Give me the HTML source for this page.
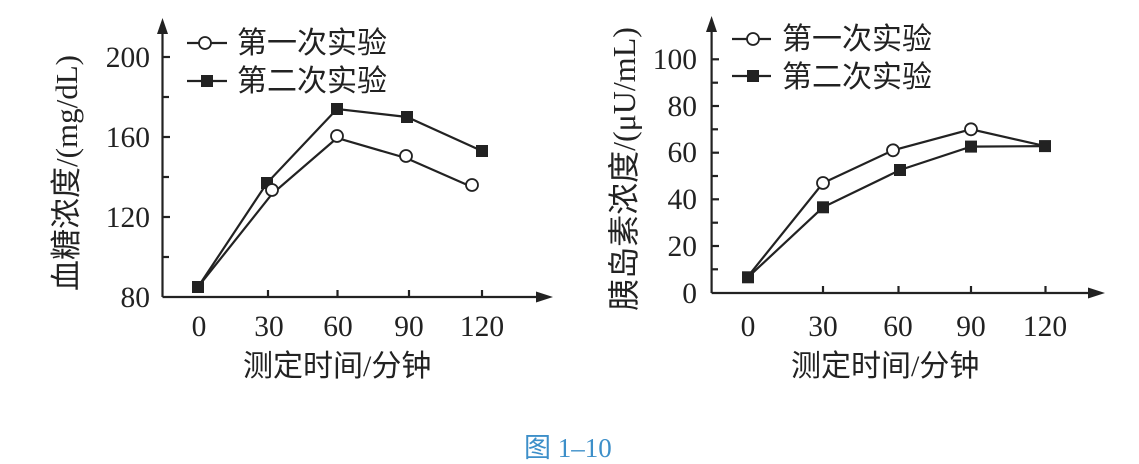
<!DOCTYPE html>
<html><head><meta charset="utf-8"><style>
html,body{margin:0;padding:0;background:#fff;}
svg{display:block;}
text{font-family:"Liberation Serif","Noto Serif CJK SC",serif;fill:#222;}
.cj{font-family:"Liberation Serif","Noto Sans CJK SC",sans-serif;}
</style></head><body>
<svg width="1139" height="464" viewBox="0 0 1139 464" xmlns="http://www.w3.org/2000/svg">
<g stroke="#222" stroke-width="2.2" fill="none">
<line x1="162.5" y1="297" x2="162.5" y2="30"/>
<line x1="162.5" y1="297" x2="540" y2="297"/>
<line x1="162.5" y1="57" x2="170" y2="57"/><line x1="162.5" y1="97" x2="169" y2="97"/>
<line x1="162.5" y1="137" x2="170" y2="137"/><line x1="162.5" y1="177" x2="169" y2="177"/>
<line x1="162.5" y1="217" x2="170" y2="217"/><line x1="162.5" y1="257" x2="169" y2="257"/>
<line x1="268" y1="297" x2="268" y2="290"/><line x1="337.5" y1="297" x2="337.5" y2="290"/>
<line x1="409" y1="297" x2="409" y2="290"/><line x1="482" y1="297" x2="482" y2="290"/>
<line x1="711.6" y1="293" x2="711.6" y2="28"/>
<line x1="711.6" y1="293" x2="1092" y2="293"/>
<line x1="711.6" y1="59.3" x2="719" y2="59.3"/><line x1="711.6" y1="82.7" x2="718" y2="82.7"/>
<line x1="711.6" y1="106" x2="719" y2="106"/><line x1="711.6" y1="129.3" x2="718" y2="129.3"/>
<line x1="711.6" y1="152.7" x2="719" y2="152.7"/><line x1="711.6" y1="176" x2="718" y2="176"/>
<line x1="711.6" y1="199.3" x2="719" y2="199.3"/><line x1="711.6" y1="222.7" x2="718" y2="222.7"/>
<line x1="711.6" y1="246" x2="719" y2="246"/><line x1="711.6" y1="269.3" x2="718" y2="269.3"/>
<line x1="823" y1="293" x2="823" y2="286"/><line x1="898.5" y1="293" x2="898.5" y2="286"/>
<line x1="971" y1="293" x2="971" y2="286"/><line x1="1045.5" y1="293" x2="1045.5" y2="286"/>
<polyline points="198,287 272,194 337,138 406,158 472,187"/>
<polyline points="198,287 267,183 337,109 407,117 482,151"/>
<polyline points="748,276.3 823,183 893,150.3 971,129.3 1045,146.1"/>
<polyline points="748,277.3 823,207.3 900,170 971,146.6 1045,146.1"/>
<line x1="187" y1="43" x2="227" y2="43"/><line x1="187" y1="81" x2="227" y2="81"/>
<line x1="732" y1="39" x2="771" y2="39"/><line x1="732" y1="76" x2="771" y2="76"/>
</g>
<g fill="#222">
<polygon points="162.5,18 157,34 168,34"/>
<polygon points="553,297 536,291.5 536,302.5"/>
<polygon points="711.6,16 706,32 717,32"/>
<polygon points="1105,293 1088,287.5 1088,298.5"/>
<rect x="192" y="281" width="12" height="12"/><rect x="261" y="177" width="12" height="12"/>
<rect x="331" y="103" width="12" height="12"/><rect x="401" y="111" width="12" height="12"/>
<rect x="476" y="145" width="12" height="12"/><rect x="201" y="75" width="12" height="12"/>
<rect x="742" y="271.3" width="12" height="12"/><rect x="817" y="201.3" width="12" height="12"/>
<rect x="894" y="164" width="12" height="12"/><rect x="965" y="140.6" width="12" height="12"/>
<rect x="1039" y="140.1" width="12" height="12"/><rect x="747" y="70" width="12" height="12"/>
</g>
<g fill="#fff" stroke="#222" stroke-width="1.8">
<circle cx="272" cy="190" r="6"/><circle cx="337" cy="136" r="6"/><circle cx="406" cy="156" r="6"/><circle cx="472" cy="185" r="6"/>
<circle cx="205" cy="43" r="6"/>
<circle cx="823" cy="183" r="6"/><circle cx="893" cy="150.3" r="6"/><circle cx="971" cy="129.3" r="6"/>
<circle cx="753" cy="39" r="6"/>
</g>
<g font-size="29.5" text-anchor="end">
<text x="150" y="67">200</text><text x="150" y="147">160</text><text x="150" y="227">120</text><text x="150" y="307">80</text>
<text x="697" y="69">100</text><text x="697" y="116">80</text><text x="697" y="162">60</text><text x="697" y="209">40</text><text x="697" y="256">20</text><text x="697" y="303">0</text>
</g>
<g font-size="29.5" text-anchor="middle">
<text x="199" y="336">0</text><text x="269" y="336">30</text><text x="338" y="336">60</text><text x="409" y="336">90</text><text x="482" y="336">120</text>
<text x="748" y="336">0</text><text x="823" y="336">30</text><text x="898" y="336">60</text><text x="971" y="336">90</text><text x="1045" y="336">120</text>
</g>
<g class="cj" font-size="30">
<text class="cj" x="237" y="53">第一次实验</text><text class="cj" x="237" y="91">第二次实验</text>
<text class="cj" x="782" y="49">第一次实验</text><text class="cj" x="782" y="87">第二次实验</text>
<text class="cj" x="243" y="376">测定时间/分钟</text><text class="cj" x="791" y="376">测定时间/分钟</text>
<text class="cj" font-size="31" text-anchor="middle" transform="translate(77,173) rotate(-90)">血糖浓度/(mg/dL)</text>
<text class="cj" font-size="32" text-anchor="middle" transform="translate(635,169) rotate(-90)">胰岛素浓度/(μU/mL)</text>
</g>
<text class="cj" x="524" y="457" font-size="27" style="fill:#3d8fc9">图 1–10</text>
</svg>
</body></html>
